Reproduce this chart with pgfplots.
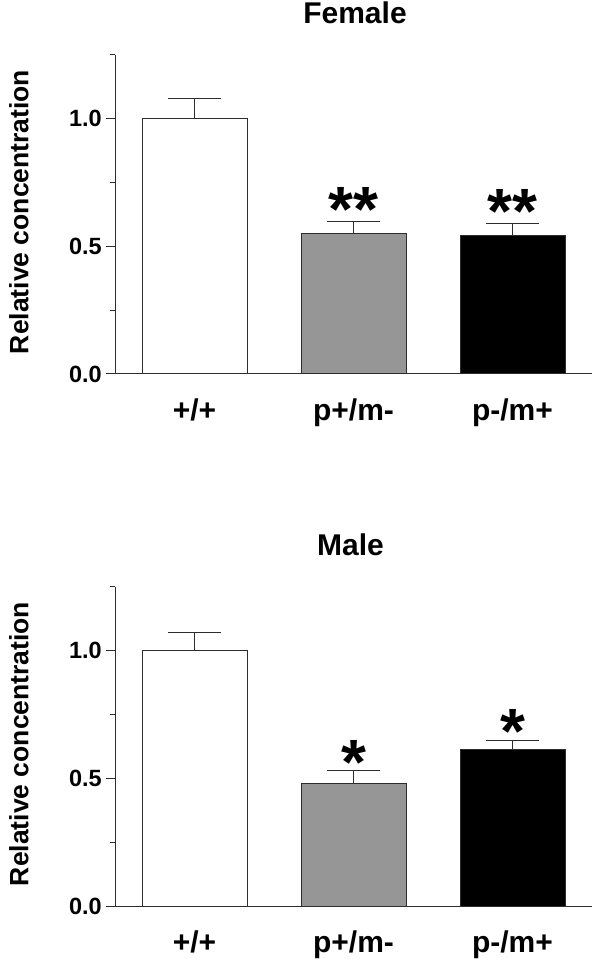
\documentclass[border=0pt]{standalone}
\usepackage{fontspec}
\setmainfont{Liberation Sans}
\usepackage{pgfplots}
\pgfplotsset{compat=1.18}
\definecolor{barGray}{RGB}{150,150,150}
\definecolor{axGray}{RGB}{45,45,45}

\pgfplotsset{
  panel/.style={
    scale only axis, width=477pt, height=319pt,
    xmin=-0.5, xmax=2.5, ymin=0, ymax=1.25,
    axis x line*=bottom, axis y line*=left,
    axis line style={axGray, line width=1pt},
    xtick={0,1,2}, xticklabels={+/+, p+/m-, p-/m+},
    x tick style={draw=none},
    xticklabel style={font=\bfseries\fontsize{30}{30}\selectfont, anchor=base, yshift=-38pt, inner sep=0pt},
    ytick={0,0.5,1}, minor ytick={0.25,0.75,1.25},
    tick align=outside, major tick length=8.5pt, minor tick length=4.5pt,
    y tick style={axGray, line width=1pt},
    yticklabel style={font=\bfseries\fontsize{23.5}{23.5}\selectfont, anchor=east, inner sep=0pt, xshift=-4.5pt},
    /pgf/number format/.cd, fixed, fixed zerofill, precision=1, assume math mode=true, /pgfplots/.cd,
    ylabel={Relative concentration},
    ylabel style={font=\bfseries\fontsize{26.5}{26.5}\selectfont, at={(axis description cs:-0.2013,0.508)}, anchor=center, rotate=0},
    title style={font=\bfseries\fontsize{30}{30}\selectfont, at={(0.5,1)}, anchor=base, yshift=25pt},
    ybar, bar width=105pt, bar shift=0pt,
    every axis plot/.append style={draw=axGray, line width=1pt},
    error bars/y dir=plus, error bars/y explicit,
    error bars/error bar style={axGray, line width=1pt},
    error bars/error mark options={axGray, line width=1pt, mark size=26.5pt, rotate=90},
    clip=false,
  }
}

\begin{document}
\begin{tikzpicture}
\useasboundingbox (0,0) rectangle (601pt,959pt);
% Female
\begin{axis}[panel, at={(115pt,585pt)}, anchor=south west, title={Female}, title style={xshift=1.5pt}]
\addplot[fill=white] coordinates {(0,1.00) +- (0,0.081)};
\addplot[fill=barGray] coordinates {(1,0.552) +- (0,0.047)};
\addplot[fill=black] coordinates {(2,0.542) +- (0,0.049)};
\node[font=\bfseries\fontsize{64}{64}\selectfont, anchor=north, inner sep=0pt] at (axis cs:1,0.733) {**};
\node[font=\bfseries\fontsize{64}{64}\selectfont, anchor=north, inner sep=0pt] at (axis cs:2,0.722) {**};
\end{axis}
% Male
\begin{axis}[panel, at={(115pt,53pt)}, anchor=south west, title={Male}, title style={xshift=-3pt}]
\addplot[fill=white] coordinates {(0,1.00) +- (0,0.073)};
\addplot[fill=barGray] coordinates {(1,0.481) +- (0,0.048)};
\addplot[fill=black] coordinates {(2,0.613) +- (0,0.036)};
\node[font=\bfseries\fontsize{64}{64}\selectfont, anchor=north, inner sep=0pt] at (axis cs:1,0.651) {*};
\node[font=\bfseries\fontsize{64}{64}\selectfont, anchor=north, inner sep=0pt] at (axis cs:2,0.769) {*};
\end{axis}
\end{tikzpicture}
\end{document}
